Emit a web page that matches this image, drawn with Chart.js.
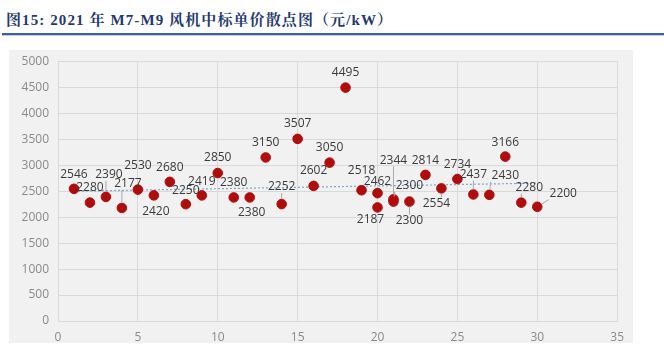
<!DOCTYPE html>
<html><head><meta charset="utf-8">
<script src="https://cdn.jsdelivr.net/npm/chart.js@4/dist/chart.umd.min.js"></script>
<style>
html,body{margin:0;padding:0;background:#fff;width:664px;height:351px;overflow:hidden;}
#title{position:absolute;left:6px;top:8px;font-family:"Liberation Serif","Noto Serif CJK SC","Noto Sans CJK SC",serif;font-weight:bold;font-size:15px;color:#1f3a70;white-space:nowrap;letter-spacing:1.1px;}
#rule{position:absolute;left:2px;top:33px;width:662px;height:2px;background:#3a62a4;border-bottom:1px solid #b9cbe6;}
#panel{position:absolute;left:9px;top:50px;width:624px;height:293px;background:#f1f1f1;}
canvas{display:block;}
</style></head>
<body>
<div id="title">图15: 2021 年 M7-M9 风机中标单价散点图（元/kW）</div>
<div id="rule"></div>
<div id="panel"><canvas id="c" width="624" height="293"></canvas></div>
<script>
// Data
const xIndex = [1,2,3,4,5,6,7,8,9,10,11,12,13,14,15,16,17,18,19,20,20,21,21,22,23,24,25,26,27,28,29,30];
const unitPrice = [2546,2280,2390,2177,2530,2420,2680,2250,2419,2850,2380,2380,3150,2252,3507,2602,3050,4495,2518,2462,2187,2344,2300,2300,2814,2554,2734,2437,2430,3166,2280,2200];
const trendX = [1,30];
const trendY = [2500,2655];
const yTicks = [0,500,1000,1500,2000,2500,3000,3500,4000,4500,5000];
const xTicks = [0,5,10,15,20,25,30,35];

// label placement (pixels relative to dot) and leader flags – styling only
const labelOffsets = [[0,-14],[0,-15],[3,-22],[6,-24],[0,-24],[2,16],[0,-14],[0,-14],[0,-14],[0,-15],[0,-15],[2,15],[0,-15],[0,-17],[0,-15],[0,-15],[0,-15],[0,-15],[0,-20],[0,-12],[-7,12],[0,-39],[16,-16],[0,19],[0,-14],[-5,15],[0,-14],[0,-20],[16,-19],[0,-14],[8,-15],[26,-13]];
const leaders = [0,0,1,1,0,0,0,0,0,0,0,0,0,1,0,0,0,0,0,0,0,1,1,1,0,1,0,1,1,0,1,1];

const points = xIndex.map((x,i)=>({x:x,y:unitPrice[i]}));
const trend = trendX.map((x,i)=>({x:x,y:trendY[i]}));

const labelPlugin = {
  id:'valueLabels',
  afterDatasetsDraw(chart){
    const ctx = chart.ctx;
    const meta = chart.getDatasetMeta(1);
    ctx.save();
    ctx.font = '12px "Open Sans", "Liberation Sans", sans-serif';
    ctx.textAlign='center';
    ctx.textBaseline='middle';
    meta.data.forEach((el,i)=>{
      const txt = String(unitPrice[i]);
      const off = labelOffsets[i];
      const cx = el.x + off[0], cy = el.y + off[1];
      if (leaders[i]) {
        const w = ctx.measureText(txt).width/2 + 1, h = 6;
        const ex = Math.min(Math.max(el.x, cx-w), cx+w);
        const ey = Math.min(Math.max(el.y, cy-h), cy+h);
        const dx = ex-el.x, dy = ey-el.y, d = Math.hypot(dx,dy);
        if (d > 6) {
          ctx.strokeStyle='#a9a9a9'; ctx.lineWidth=1;
          ctx.beginPath();
          ctx.moveTo(el.x+dx/d*5, el.y+dy/d*5);
          ctx.lineTo(ex,ey);
          ctx.stroke();
        }
      }
      ctx.fillStyle='#3a3a3a';
      ctx.fillText(txt, cx, cy);
    });
    ctx.restore();
  }
};

new Chart(document.getElementById('c'), {
  type:'scatter',
  data:{datasets:[
    {type:'line', data:trend, borderColor:'#7fa3cf', borderWidth:1.2, borderDash:[2,2], pointRadius:0, fill:false, order:2},
    {data:points, backgroundColor:'#b00c0c', borderColor:'#b00c0c', pointRadius:4.8, pointHoverRadius:4.8, order:1}
  ]},
  options:{
    responsive:false, animation:false, events:[],
    layout:{padding:{top:5,right:13,left:0,bottom:0}},
    plugins:{legend:{display:false},tooltip:{enabled:false}},
    scales:{
      x:{type:'linear',min:0,max:35,
        afterBuildTicks(s){s.ticks = xTicks.map(v=>({value:v}));},
        afterFit(s){s.height=22;},
        grid:{color:'#d9d9d9',lineWidth:1,drawTicks:false},
        border:{color:'#d9d9d9'},
        ticks:{color:'#8a8a8a',font:{family:'"Open Sans", "Liberation Sans", sans-serif',size:12},padding:9,maxRotation:0,callback:v=>String(v)}
      },
      y:{type:'linear',min:0,max:5000,
        afterBuildTicks(s){s.ticks = yTicks.map(v=>({value:v}));},
        afterFit(s){s.width=49;},
        grid:{color:'#d9d9d9',lineWidth:1,drawTicks:false},
        border:{color:'#d9d9d9'},
        ticks:{color:'#8a8a8a',font:{family:'"Open Sans", "Liberation Sans", sans-serif',size:12,lineHeight:0.4},padding:9,callback:v=>String(v)}
      }
    }
  },
  plugins:[labelPlugin]
});
</script>
</body></html>
